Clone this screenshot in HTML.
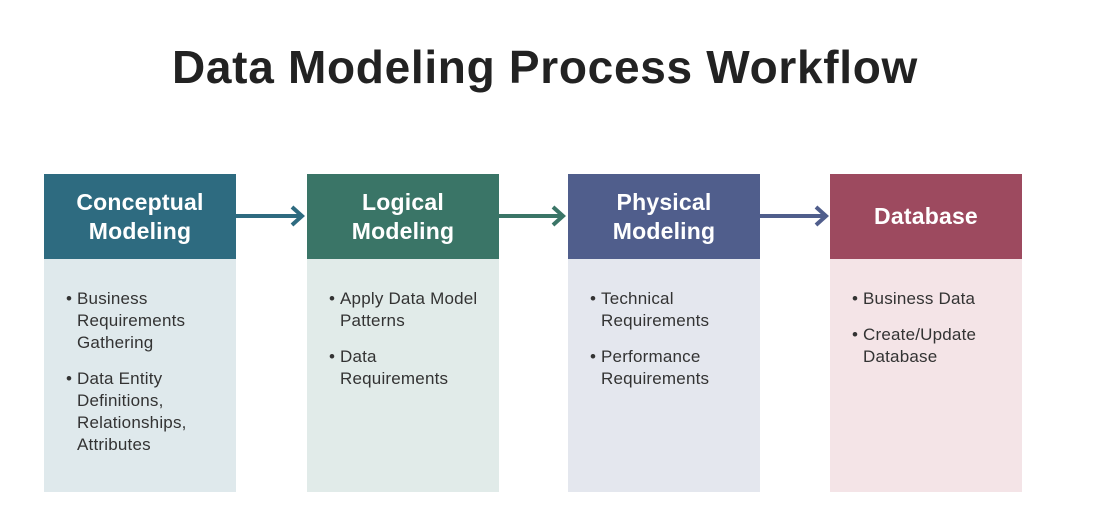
<!DOCTYPE html>
<html><head><style>
body{margin:0;width:1108px;height:514px;background:#fff;position:relative;overflow:hidden;font-family:"Liberation Sans",sans-serif;}
h1{position:absolute;top:40px;left:0;width:1090px;text-align:center;margin:0;font-size:46px;font-weight:bold;color:#222;letter-spacing:0.7px}
.col{position:absolute;top:174px;width:192px;height:318px}
.hd{height:85px;display:flex;align-items:center;justify-content:center;text-align:center;color:#fff;font-weight:bold;font-size:23px;line-height:29px;letter-spacing:0.2px}
.bd{height:233px}
ul{margin:0;padding:0 0 0 33px;position:absolute;top:114px;list-style:none;width:160px}
li{position:relative;font-size:17px;line-height:22px;color:#333;margin-bottom:14px;letter-spacing:0.2px}
li:before{content:"•";position:absolute;left:-11px}
</style></head><body>
<h1>Data Modeling Process Workflow</h1>
<div class="col" style="left:44px"><div class="hd" style="background:#2e6b80">Conceptual<br>Modeling</div><div class="bd" style="background:#dfe9ec"></div>
<ul><li>Business<br>Requirements<br>Gathering</li><li>Data Entity<br>Definitions,<br>Relationships,<br>Attributes</li></ul></div>
<div class="col" style="left:307px"><div class="hd" style="background:#3a7567">Logical<br>Modeling</div><div class="bd" style="background:#e1ebe9"></div>
<ul><li>Apply Data Model<br>Patterns</li><li>Data<br>Requirements</li></ul></div>
<div class="col" style="left:568px"><div class="hd" style="background:#505e8c">Physical<br>Modeling</div><div class="bd" style="background:#e4e7ee"></div>
<ul><li>Technical<br>Requirements</li><li>Performance<br>Requirements</li></ul></div>
<div class="col" style="left:830px"><div class="hd" style="background:#9d4a5f">Database</div><div class="bd" style="background:#f4e4e7"></div>
<ul><li>Business Data</li><li>Create/Update<br>Database</li></ul></div>
<svg width="1108" height="514" style="position:absolute;left:0;top:0">
<g stroke-width="4" fill="none">
<path d="M236 216H302M292 207L302 216L292 225" stroke="#2e6b80"/>
<path d="M499 216H563M553 207L563 216L553 225" stroke="#3a7567"/>
<path d="M760 216H826M816 207L826 216L816 225" stroke="#505e8c"/>
</g></svg>
</body></html>
